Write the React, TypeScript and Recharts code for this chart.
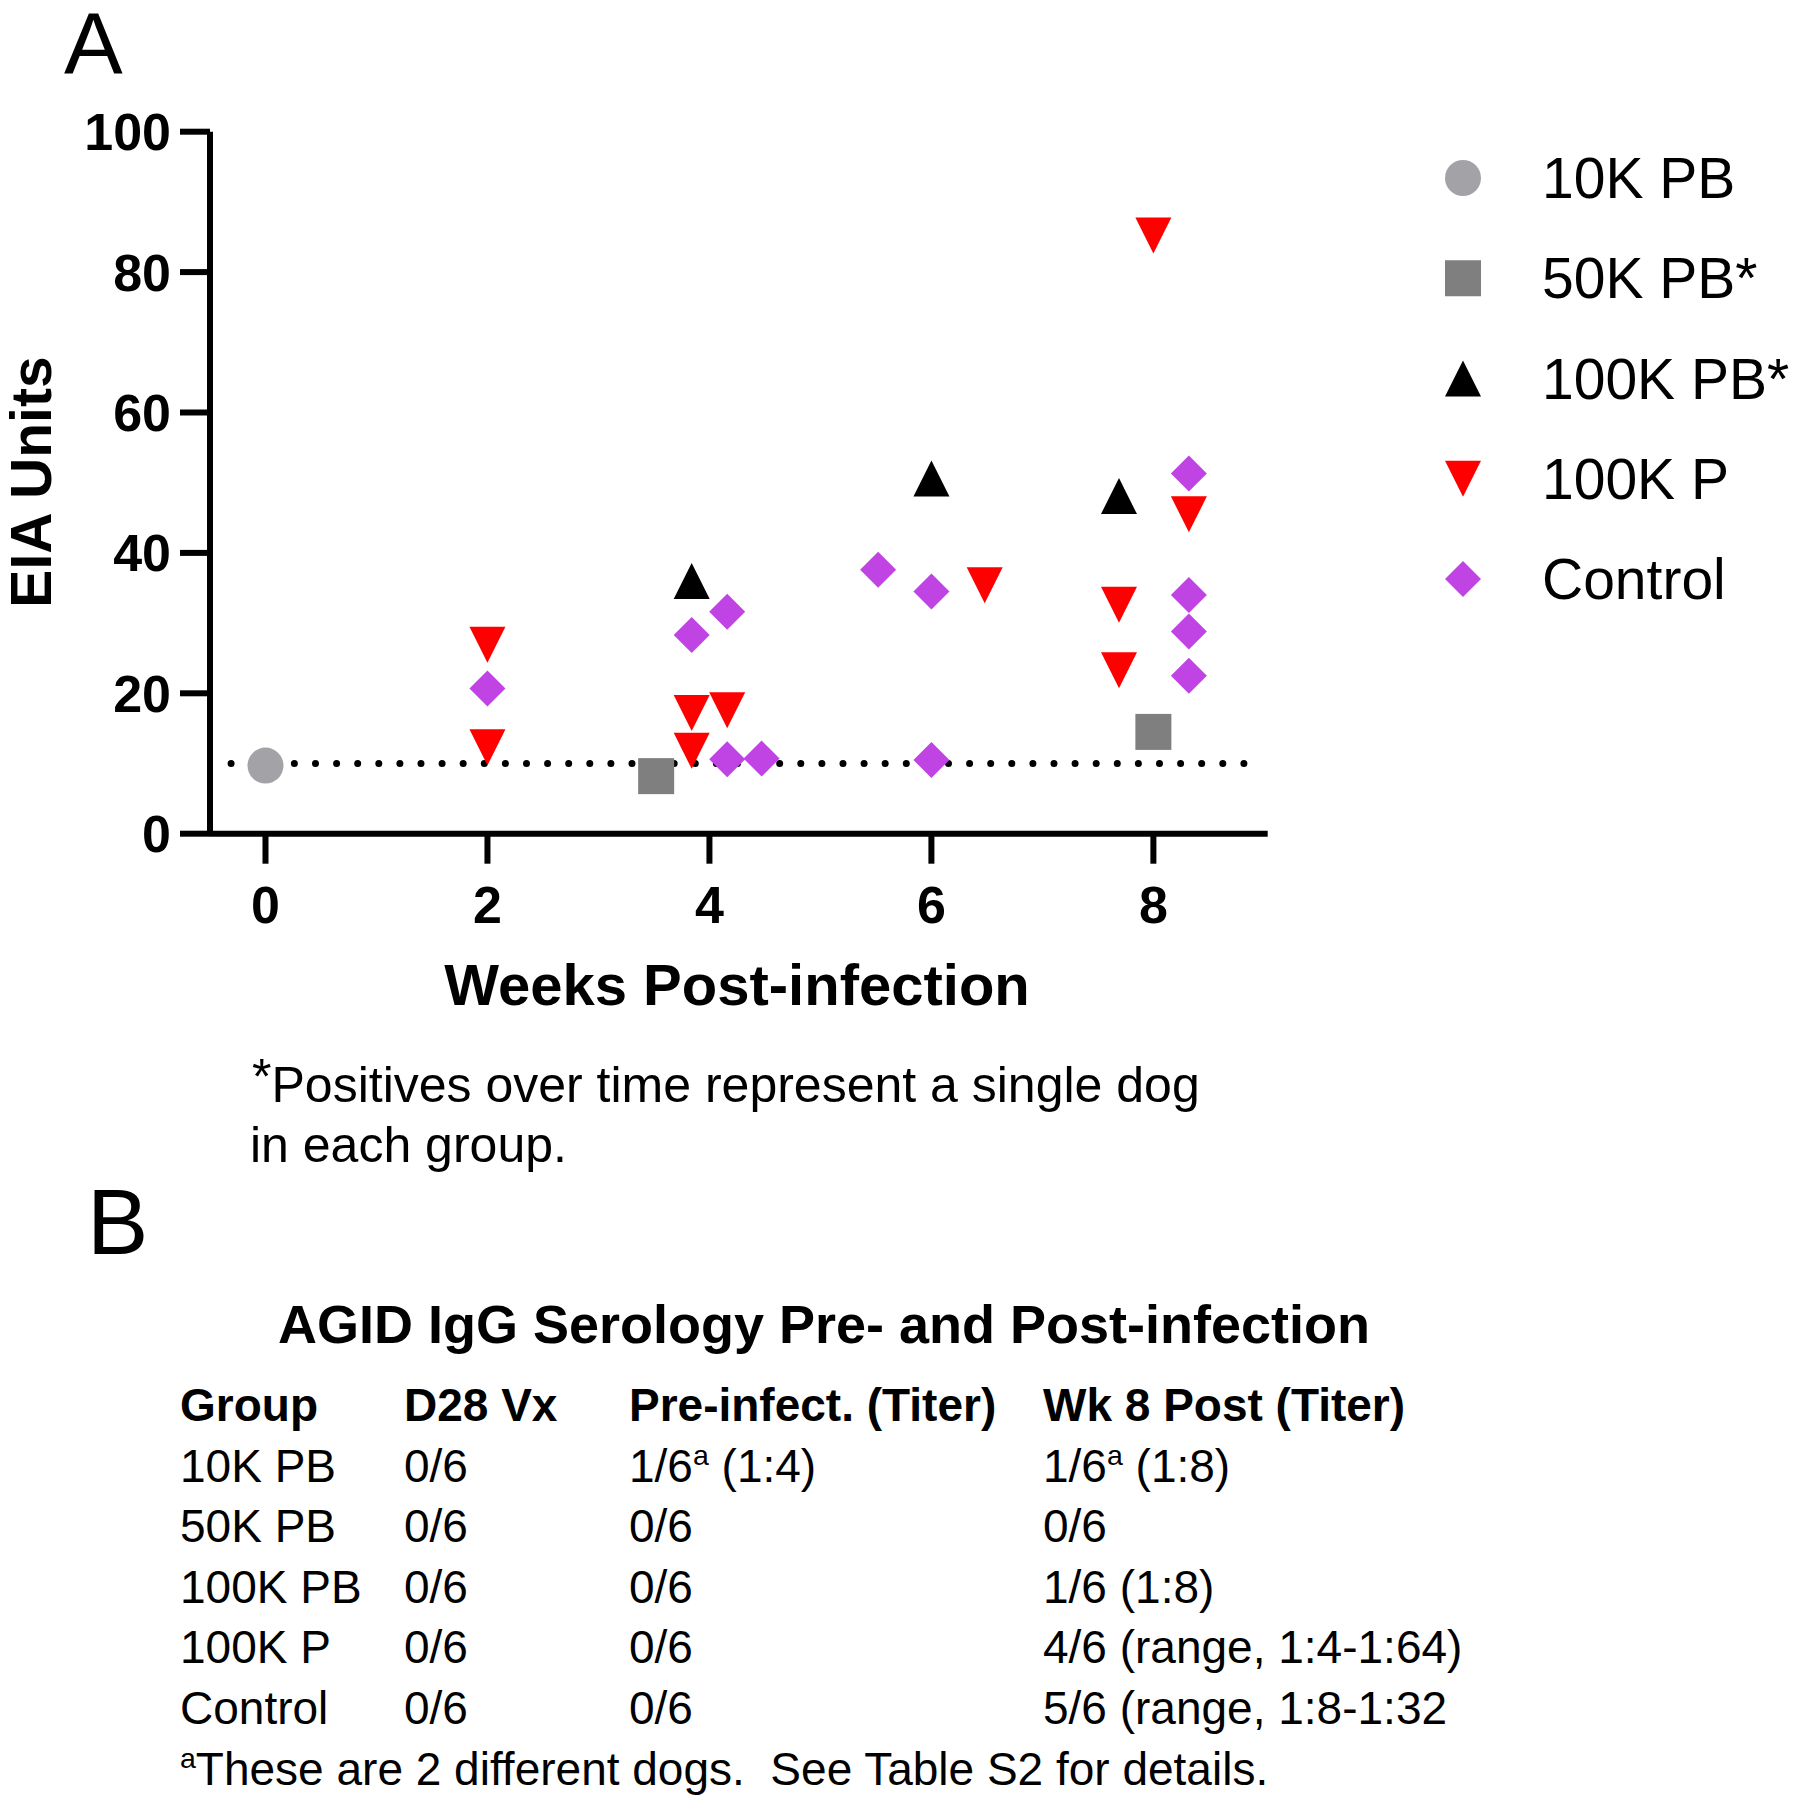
import { ScatterChart, Scatter, XAxis, YAxis, ReferenceLine, Legend } from 'recharts';

const FONT = '"Liberation Sans", Arial, Helvetica, sans-serif';

const xTicks = [0, 2, 4, 6, 8];
const yTicks = [0, 20, 40, 60, 80, 100];
const detectionLimit = 10;

// weeks include the horizontal jitter used in the original figure
const pb10kWeeks = [0];
const pb10kEIA = [9.7];
const pb50kWeeks = [3.52, 8];
const pb50kEIA = [8.2, 14.5];
const pb100kWeeks = [3.84, 6, 7.69];
const pb100kEIA = [36.0, 50.6, 48.1];
const p100kWeeks = [2, 2, 3.84, 3.84, 4.16, 6.48, 7.69, 7.69, 8, 8.32];
const p100kEIA = [26.9, 12.3, 17.2, 11.8, 17.6, 35.4, 32.6, 23.3, 85.2, 45.5];
const controlWeeks = [2, 3.84, 4.16, 4.16, 4.47, 5.52, 6, 6, 8.32, 8.32, 8.32, 8.32];
const controlEIA = [20.7, 28.3, 31.6, 10.6, 10.7, 37.6, 34.5, 10.5, 51.3, 34.0, 28.8, 22.5];

// AGID table
const tableTitle = 'AGID IgG Serology Pre- and Post-infection';
const tableHeader = ['Group', 'D28 Vx', 'Pre-infect. (Titer)', 'Wk 8 Post (Titer)'];
const tableGroups = ['10K PB', '50K PB', '100K PB', '100K P', 'Control'];
const tableD28 = ['0/6', '0/6', '0/6', '0/6', '0/6'];
const tablePre = ['1/6^a (1:4)', '0/6', '0/6', '0/6', '0/6'];
const tableWk8 = ['1/6^a (1:8)', '0/6', '1/6 (1:8)', '4/6 (range, 1:4-1:64)', '5/6 (range, 1:8-1:32'];
const tableNote = '^aThese are 2 different dogs.  See Table S2 for details.';

const toPoints = (xs: number[], ys: number[]) => xs.map((x, i) => ({ x, y: ys[i] }));

type Kind = 'circle' | 'square' | 'up' | 'down' | 'diamond';

const SERIES: { name: string; legend: string; kind: Kind; color: string; data: { x: number; y: number }[] }[] = [
  { name: '10K PB', legend: '10K PB', kind: 'circle', color: '#a3a2a7', data: toPoints(pb10kWeeks, pb10kEIA) },
  { name: '50K PB', legend: '50K PB*', kind: 'square', color: '#7f7f7f', data: toPoints(pb50kWeeks, pb50kEIA) },
  { name: '100K PB', legend: '100K PB*', kind: 'up', color: '#000000', data: toPoints(pb100kWeeks, pb100kEIA) },
  { name: '100K P', legend: '100K P', kind: 'down', color: '#ff0000', data: toPoints(p100kWeeks, p100kEIA) },
  { name: 'Control', legend: 'Control', kind: 'diamond', color: '#c044e4', data: toPoints(controlWeeks, controlEIA) },
];

const SIZE = 36;

function Marker({ kind, cx, cy, color }: { kind: Kind; cx: number; cy: number; color: string }) {
  const h = SIZE / 2;
  if (kind === 'circle') return <circle cx={cx} cy={cy} r={h} fill={color} />;
  if (kind === 'square') return <rect x={cx - h} y={cy - h} width={SIZE} height={SIZE} fill={color} />;
  if (kind === 'up') return <polygon points={`${cx},${cy - h} ${cx + h},${cy + h} ${cx - h},${cy + h}`} fill={color} />;
  if (kind === 'down') return <polygon points={`${cx - h},${cy - h} ${cx + h},${cy - h} ${cx},${cy + h}`} fill={color} />;
  return <polygon points={`${cx},${cy - h} ${cx + h},${cy} ${cx},${cy + h} ${cx - h},${cy}`} fill={color} />;
}

function LegendBox() {
  return (
    <svg width={400} height={560} style={{ display: 'block', overflow: 'visible' }}>
      {SERIES.map((s, i) => {
        const cy = 78 + i * 100.25;
        return (
          <g key={s.name}>
            <Marker kind={s.kind} cx={63} cy={cy} color={s.color} />
            <text x={142} y={cy} dy="0.355em" fontFamily={FONT} fontSize={57} fill="#000">{s.legend}</text>
          </g>
        );
      })}
    </svg>
  );
}

// renders "^a" as a superscript a
function Cell({ text, x, y, size, bold }: { text: string; x: number; y: number; size: number; bold?: boolean }) {
  const parts = text.split('^a');
  return (
    <text x={x} y={y} fontFamily={FONT} fontSize={size} fontWeight={bold ? 'bold' : 'normal'} fill="#000" style={{ whiteSpace: 'pre' }}>
      {parts.map((p, i) => (
        <tspan key={i}>
          {i > 0 && <tspan fontSize={size * 0.62} dy={-size * 0.36}>a</tspan>}
          {i > 0 ? <tspan dy={size * 0.36}>{p}</tspan> : p}
        </tspan>
      ))}
    </text>
  );
}

export default function App() {
  const colX = [180, 404, 629, 1043];
  const headerY = 1421;
  const rowStep = 60.6;
  const rows = tableGroups.map((g, i) => [g, tableD28[i], tablePre[i], tableWk8[i]]);

  return (
    <div style={{ position: 'absolute', left: 0, top: 0, width: 1800, height: 1798, background: '#fff' }}>
      <div style={{ position: 'absolute', left: 0, top: 0 }}>
        <ScatterChart width={1800} height={1060} margin={{ top: 131.7, right: 532.3, bottom: 106.3, left: 90 }}>
          <XAxis
            type="number"
            dataKey="x"
            domain={[-0.5, 9.03]}
            ticks={xTicks}
            allowDataOverflow
            height={120}
            axisLine={{ stroke: '#000', strokeWidth: 6 }}
            tickLine={{ stroke: '#000', strokeWidth: 6 }}
            tickSize={30}
            tickMargin={22}
            tick={{ fill: '#000', fontSize: 52, fontWeight: 'bold', fontFamily: FONT }}
          />
          <YAxis
            type="number"
            dataKey="y"
            domain={[0, 100]}
            ticks={yTicks}
            allowDataOverflow
            width={120}
            axisLine={{ stroke: '#000', strokeWidth: 6 }}
            tickLine={{ stroke: '#000', strokeWidth: 6 }}
            tickSize={30}
            tickMargin={9}
            tick={{ fill: '#000', fontSize: 52, fontWeight: 'bold', fontFamily: FONT }}
          />
          {SERIES.map((s) => (
            <Scatter
              key={s.name}
              name={s.name}
              data={s.data}
              fill={s.color}
              isAnimationActive={false}
              shape={(p: any) => <Marker kind={s.kind} cx={p.cx} cy={p.cy} color={s.color} />}
            />
          ))}
          <ReferenceLine
            segment={[{ x: -0.31, y: detectionLimit }, { x: 8.82, y: detectionLimit }]}
            stroke="#000"
            strokeWidth={7}
            strokeDasharray="0 21.1"
            strokeLinecap="round"
          />
          <Legend
            layout="vertical"
            align="center"
            verticalAlign="middle"
            wrapperStyle={{ left: 1400, top: 100, width: 400, height: 560 }}
            content={() => <LegendBox />}
          />
        </ScatterChart>
      </div>

      <svg width={1800} height={1798} style={{ position: 'absolute', left: 0, top: 0, pointerEvents: 'none' }}>
        <text x={64} y={74} fontFamily={FONT} fontSize={88} fill="#000">A</text>
        <text
          x={31}
          y={482}
          transform="rotate(-90 31 482)"
          textAnchor="middle"
          dy="0.355em"
          fontFamily={FONT}
          fontSize={57}
          fontWeight="bold"
          fill="#000"
        >
          EIA Units
        </text>
        <text x={737} y={1005} textAnchor="middle" fontFamily={FONT} fontSize={58} fontWeight="bold" fill="#000">
          Weeks Post-infection
        </text>

        <text x={252} y={1102} fontFamily={FONT} fontSize={50} fill="#000">
          <tspan dy={-8}>*</tspan>
          <tspan dy={8}>Positives over time represent a single dog</tspan>
        </text>
        <text x={250} y={1162} fontFamily={FONT} fontSize={50} fill="#000">in each group.</text>

        <text x={87} y={1254} fontFamily={FONT} fontSize={92} fill="#000">B</text>
        <text x={824} y={1343} textAnchor="middle" fontFamily={FONT} fontSize={54} fontWeight="bold" fill="#000">
          {tableTitle}
        </text>
        {tableHeader.map((h, j) => (
          <Cell key={h} text={h} x={colX[j]} y={headerY} size={46} bold />
        ))}
        {rows.map((r, i) =>
          r.map((c, j) => <Cell key={`${i}-${j}`} text={c} x={colX[j]} y={headerY + (i + 1) * rowStep} size={46} />)
        )}
        <Cell text={tableNote} x={colX[0]} y={headerY + 6 * rowStep} size={46} />
      </svg>
    </div>
  );
}
